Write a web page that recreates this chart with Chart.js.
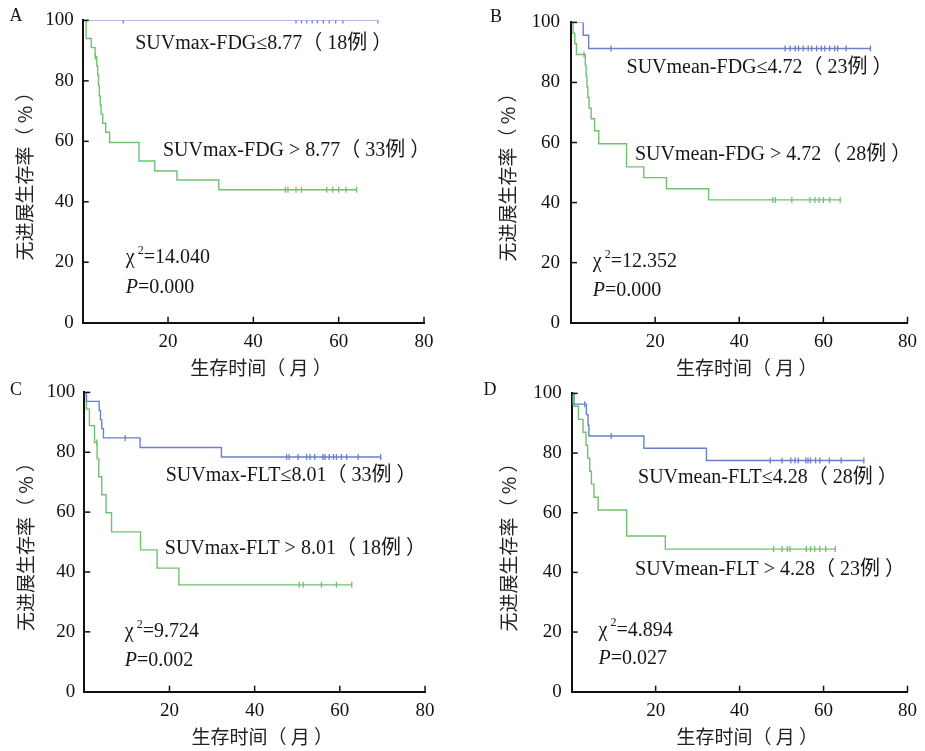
<!DOCTYPE html>
<html>
<head>
<meta charset="utf-8">
<script src="https://cdn.jsdelivr.net/npm/chart.js@4.4.1/dist/chart.umd.min.js"></script>
<style>
  body { margin: 0; background: #fff; }
  #wrap { position: relative; width: 925px; height: 751px; overflow: hidden; }
  canvas { position: absolute; }
</style>
</head>
<body>
<div id="wrap">
  <canvas id="chartA" width="462" height="385" style="left:0;top:0"></canvas>
  <canvas id="chartB" width="463" height="385" style="left:462px;top:0"></canvas>
  <canvas id="chartC" width="462" height="379" style="left:0;top:372px"></canvas>
  <canvas id="chartD" width="463" height="379" style="left:462px;top:372px"></canvas>
</div>
<script>
// Axis ticks and titles
const xTicks = [0, 20, 40, 60, 80];
const yTicks = [0, 20, 40, 60, 80, 100];
const xTitle = '生存时间（ 月 ）';
const yTitle = '无进展生存率（ % ）';

// Panel A: SUVmax-FDG
const aLowTime = [0, 69.2];
const aLowSurv = [100, 100];
const aLowCens = [9.5, 50, 51.3, 52.5, 53.8, 55, 56.4, 57.8, 59.3, 61, 69.2];
const aHighTime = [0, 0.8, 2.0, 2.9, 3.3, 3.5, 3.7, 3.9, 4.1, 4.3, 4.7, 5.4, 6.3, 13.2, 16.9, 22.1, 31.9, 64.2];
const aHighSurv = [100, 94, 91, 88, 85, 82, 78.5, 75, 72, 69, 66, 63, 59.6, 53.5, 50.2, 47.2, 44, 44];
const aHighCens = [3.0, 47.5, 48.1, 50, 51.3, 57.2, 58.6, 60, 61.7, 64.2];
const aLabels = ['SUVmax-FDG≤8.77（ 18例 ）', 'SUVmax-FDG > 8.77（ 33例 ）'];
const aStats = ['14.040', '0.000'];

// Panel B: SUVmean-FDG
const bLowTime = [0, 2.9, 4.2, 71.2];
const bLowSurv = [100, 95.7, 91.3, 91.3];
const bLowCens = [9.5, 50.9, 52.1, 53.3, 54.1, 55.2, 56.4, 57.2, 58.4, 59.5, 60.3, 61.5, 62.7, 63.4, 65.4, 71.2];
const bHighTime = [0, 0.5, 0.9, 1.3, 3.4, 3.6, 3.8, 4.0, 4.3, 4.8, 5.6, 6.6, 13.2, 17.3, 22.7, 32.7, 64];
const bHighSurv = [100, 96.4, 92.9, 89.3, 85.7, 82.1, 78.6, 75, 71.4, 67.9, 63.9, 59.6, 51.9, 48.3, 44.6, 40.9, 40.9];
const bHighCens = [3.1, 48, 48.6, 52.5, 56.8, 58, 59, 60, 61.5, 64];
const bLabels = ['SUVmean-FDG≤4.72（ 23例 ）', 'SUVmean-FDG > 4.72（ 28例 ）'];
const bStats = ['12.352', '0.000'];

// Panel C: SUVmax-FLT
const cLowTime = [0, 0.5, 3.5, 3.8, 4.1, 4.5, 13.1, 32.2, 69.6];
const cLowSurv = [100, 97, 93.9, 90.9, 87.9, 84.8, 81.6, 78.4, 78.4];
const cLowCens = [9.6, 47.5, 48.1, 50.2, 52.2, 53, 54.1, 56, 56.5, 57.5, 58.5, 59.2, 60.4, 61.6, 64.3, 69.6];
const cHighTime = [0, 0.5, 1.2, 2.4, 3.0, 3.4, 4.1, 5.1, 6.4, 13.2, 17.1, 22.2, 62.8];
const cHighSurv = [100, 94.4, 88.9, 83.3, 77.8, 71.8, 65.8, 59.8, 53.4, 47.4, 41.3, 35.7, 35.7];
const cHighCens = [2.9, 50.5, 51.4, 55.7, 59.2, 62.8];
const cLabels = ['SUVmax-FLT≤8.01（ 33例 ）', 'SUVmax-FLT > 8.01（ 18例 ）'];
const cStats = ['9.724', '0.002'];

// Panel D: SUVmean-FLT
const dLowTime = [0, 0.3, 3.5, 3.9, 4.1, 17.2, 32.1, 69.6];
const dLowSurv = [100, 96.4, 92.9, 89.3, 85.7, 81.6, 77.5, 77.5];
const dLowCens = [3.1, 9.4, 47.3, 50.1, 52.2, 53.2, 54, 55.8, 56.3, 56.9, 58.1, 59.1, 61.4, 64.2, 69.6];
const dHighTime = [0, 0.6, 1.6, 2.7, 3.4, 3.8, 4.3, 4.7, 5.3, 6.3, 13.1, 22.3, 62.8];
const dHighSurv = [100, 95.7, 91.3, 87, 82.6, 78.3, 73.9, 69.6, 65.2, 60.9, 52.2, 47.8, 47.8];
const dHighCens = [48.1, 50.1, 51.4, 52, 55.9, 56.9, 57.9, 59.1, 60.5, 62.8];
const dLabels = ['SUVmean-FLT≤4.28（ 28例 ）', 'SUVmean-FLT > 4.28（ 23例 ）'];
const dStats = ['4.894', '0.027'];

const blue = '#6a80c8';
const green = '#72c172';
const serif = "'Liberation Serif', 'Noto Sans CJK SC'";
const cjk = "'Noto Sans CJK SC'";

function steps(times, surv) {
    return times.map((t, i) => ({ x: t, y: surv[i] }));
}

// censor marks sit on the curve at their time
function marks(times, surv, cens) {
    return cens.map(c => {
        let v = surv[0];
        times.forEach((t, i) => { if (t <= c) v = surv[i]; });
        return { x: c, y: v };
    });
}

const decor = {
    id: 'decor',
    afterDraw(chart, args, o) {
        const { ctx, chartArea, scales: { x, y } } = chart;
        ctx.save();
        ctx.strokeStyle = '#111';
        ctx.lineWidth = 1.5;
        // tick marks point into the plot
        xTicks.forEach(v => {
            if (v === 0) return;
            const px = x.getPixelForValue(v);
            ctx.beginPath();
            ctx.moveTo(px, chartArea.bottom);
            ctx.lineTo(px, chartArea.bottom - 6);
            ctx.stroke();
        });
        yTicks.forEach(v => {
            if (v === 0) return;
            const py = y.getPixelForValue(v);
            ctx.beginPath();
            ctx.moveTo(chartArea.left, py);
            ctx.lineTo(chartArea.left + 6, py);
            ctx.stroke();
        });

        // x axis title, slightly right of the plot centre as in the source
        ctx.fillStyle = '#222';
        ctx.textAlign = 'center';
        ctx.textBaseline = 'middle';
        ctx.font = '19px ' + cjk;
        ctx.fillText(xTitle, x.getPixelForValue(41.8), chartArea.bottom + 45);

        ctx.fillStyle = '#161616';
        ctx.textAlign = 'left';
        ctx.font = '20px ' + serif;
        o.labels.forEach((t, i) => {
            ctx.fillText(t, x.getPixelForValue(o.labelPos[i][0]), y.getPixelForValue(o.labelPos[i][1]));
        });

        // chi-square line
        let cx = x.getPixelForValue(o.chiPos[0]);
        const cy = y.getPixelForValue(o.chiPos[1]);
        ctx.fillText('χ', cx, cy);
        cx += ctx.measureText('χ').width + 3;
        ctx.font = '12px ' + serif;
        ctx.fillText('2', cx, cy - 7);
        cx += ctx.measureText('2').width;
        ctx.font = '20px ' + serif;
        ctx.fillText('=' + o.stats[0], cx, cy);

        // P value line
        let px = x.getPixelForValue(o.pPos[0]);
        const py = y.getPixelForValue(o.pPos[1]);
        ctx.font = 'italic 20px ' + serif;
        ctx.fillText('P', px, py);
        px += ctx.measureText('P').width;
        ctx.font = '20px ' + serif;
        ctx.fillText('=' + o.stats[1], px, py);

        // panel letter
        ctx.font = '18px ' + serif;
        ctx.textAlign = 'center';
        ctx.fillText(o.letter, o.letterX, o.letterY);
        ctx.restore();
    }
};

function makePanel(id, curves, texts, box) {
    const ctx = document.getElementById(id).getContext('2d');
    return new Chart(ctx, {
        type: 'line',
        data: {
            datasets: [
                { data: steps(curves.lowTime, curves.lowSurv), borderColor: blue, borderWidth: 1.4, stepped: true, pointRadius: 0, fill: false },
                { data: steps(curves.highTime, curves.highSurv), borderColor: green, borderWidth: 1.4, stepped: true, pointRadius: 0, fill: false },
                { data: marks(curves.lowTime, curves.lowSurv, curves.lowCens), showLine: false, pointStyle: 'line', rotation: 90, pointRadius: 3, borderColor: blue, borderWidth: 1.3 },
                { data: marks(curves.highTime, curves.highSurv, curves.highCens), showLine: false, pointStyle: 'line', rotation: 90, pointRadius: 3, borderColor: green, borderWidth: 1.3 }
            ]
        },
        options: {
            responsive: false,
            animation: false,
            layout: { padding: { top: box.top, right: box.right, left: 0, bottom: 0 } },
            plugins: {
                legend: { display: false },
                tooltip: { enabled: false },
                decor: {
                    labels: texts.labels,
                    stats: texts.stats,
                    labelPos: box.labelPos,
                    chiPos: box.chiPos,
                    pPos: box.pPos,
                    letter: box.letter,
                    letterX: box.letterX,
                    letterY: box.letterY
                }
            },
            scales: {
                x: {
                    type: 'linear',
                    min: 0,
                    max: 80,
                    afterBuildTicks: s => { s.ticks = xTicks.map(v => ({ value: v })); },
                    afterFit: s => { s.height = box.xh; },
                    grid: { display: false, drawTicks: false },
                    border: { display: true, color: '#111', width: 2 },
                    ticks: {
                        padding: 8,
                        color: '#111',
                        font: { family: serif, size: 19 },
                        callback: v => (v === 0 ? '' : v)
                    }
                },
                y: {
                    min: 0,
                    max: 100,
                    afterBuildTicks: s => { s.ticks = yTicks.map(v => ({ value: v })); },
                    afterFit: s => { s.width = box.left; },
                    grid: { display: false, drawTicks: false },
                    border: { display: true, color: '#111', width: 2 },
                    ticks: {
                        padding: box.tickGap,
                        color: '#111',
                        font: { family: serif, size: 19 }
                    },
                    title: {
                        display: true,
                        text: yTitle,
                        color: '#222',
                        font: { family: cjk, size: 19 },
                        padding: { top: box.yTitleX - 11.4, bottom: 0 }
                    }
                }
            }
        },
        plugins: [decor]
    });
}

makePanel('chartA',
    { lowTime: aLowTime, lowSurv: aLowSurv, lowCens: aLowCens, highTime: aHighTime, highSurv: aHighSurv, highCens: aHighCens },
    { labels: aLabels, stats: aStats },
    { left: 82.7, right: 38, top: 15, xh: 62.3, yTitleX: 25, tickGap: 9,
      labelPos: [[12.3, 92.3], [18.8, 56.8]], chiPos: [10.1, 21.5], pPos: [10.1, 11.6],
      letter: 'A', letterX: 16, letterY: 16 });

makePanel('chartB',
    { lowTime: bLowTime, lowSurv: bLowSurv, lowCens: bLowCens, highTime: bHighTime, highSurv: bHighSurv, highCens: bHighCens },
    { labels: bLabels, stats: bStats },
    { left: 109, right: 12.7, top: 15.7, xh: 62.3, yTitleX: 46, tickGap: 11,
      labelPos: [[13.2, 85.0], [15.2, 56.0]], chiPos: [5.2, 20.4], pPos: [5.2, 10.6],
      letter: 'B', letterX: 34, letterY: 17 });

makePanel('chartC',
    { lowTime: cLowTime, lowSurv: cLowSurv, lowCens: cLowCens, highTime: cHighTime, highSurv: cHighSurv, highCens: cHighCens },
    { labels: cLabels, stats: cStats },
    { left: 84.3, right: 37, top: 18.7, xh: 59.3, yTitleX: 26, tickGap: 9,
      labelPos: [[19.1, 72.3], [18.9, 47.6]], chiPos: [9.5, 19.9], pPos: [9.5, 10.2],
      letter: 'C', letterX: 16, letterY: 18 });

makePanel('chartD',
    { lowTime: dLowTime, lowSurv: dLowSurv, lowCens: dLowCens, highTime: dHighTime, highSurv: dHighSurv, highCens: dHighCens },
    { labels: dLabels, stats: dStats },
    { left: 109.7, right: 12.7, top: 19.7, xh: 59.3, yTitleX: 47, tickGap: 10,
      labelPos: [[15.8, 71.7], [15.1, 40.8]], chiPos: [6.4, 20.6], pPos: [6.4, 11.1],
      letter: 'D', letterX: 28, letterY: 18 });
</script>
</body>
</html>
